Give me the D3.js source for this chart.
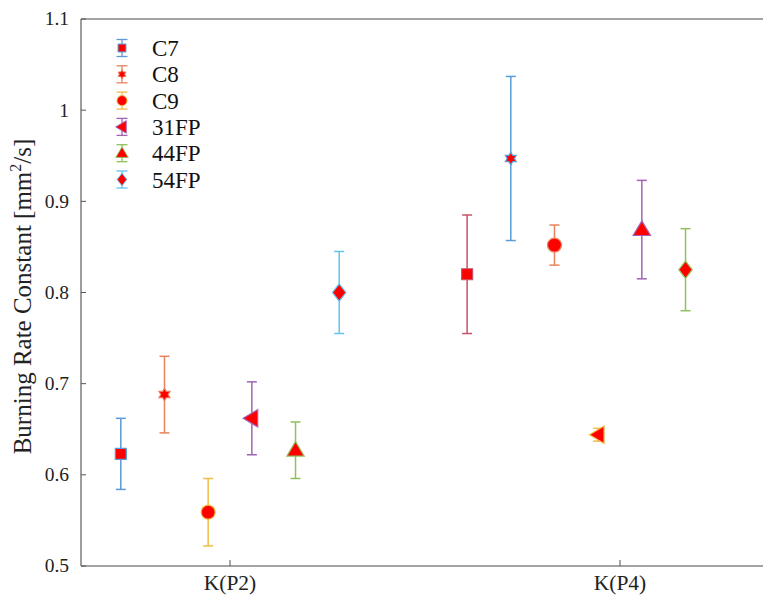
<!DOCTYPE html>
<html>
<head>
<meta charset="utf-8">
<script src="https://cdn.jsdelivr.net/npm/d3@7"></script>
<style>
  body { margin: 0; background: #fff; }
  text { font-family: "Liberation Serif", "Times New Roman", Times, serif; }
</style>
</head>
<body>
<div id="chart"></div>
<script>
// data
const categories = ['K(P2)', 'K(P4)'];
const series = ['C7', 'C8', 'C9', '31FP', '44FP', '54FP'];
const yTicks = [0.5, 0.6, 0.7, 0.8, 0.9, 1, 1.1];

const p2Mean = [0.623, 0.688, 0.559, 0.662, 0.627, 0.800];
const p2Err  = [0.039, 0.042, 0.037, 0.040, 0.031, 0.045];
const p4Mean = [0.820, 0.947, 0.852, 0.644, 0.869, 0.825];
const p4Err  = [0.065, 0.090, 0.022, 0.007, 0.054, 0.045];

// x positions (category units, K(P2)=1, K(P4)=2)
const p2X = [0.72, 0.832, 0.944, 1.056, 1.168, 1.28];
const p4X = [1.608, 1.72, 1.832, 1.944, 2.056, 2.168];

const palette = {
  blue: '#5a9bd8', orange: '#e8825e', yellow: '#f0bd45', purple: '#a263b6',
  green: '#92c05c', cyan: '#62c3ee', crimson: '#c7526a'
};
const p2Colors = ['blue', 'orange', 'yellow', 'purple', 'green', 'cyan'];
const p4Colors = ['crimson', 'blue', 'orange', 'yellow', 'purple', 'green'];
const shapes = ['square', 'hexagram', 'circle', 'triangleLeft', 'triangleUp', 'diamond'];

const W = 763, H = 596;
const margin = { top: 19, left: 81, bottom: 30 };
const plotRight = 800;

const svg = d3.select('#chart').append('svg')
  .attr('width', W).attr('height', H);

const x = d3.scaleLinear().domain([1, 2]).range([230, 620]);
const y = d3.scaleLinear().domain([0.5, 1.1]).range([H - margin.bottom, margin.top]);

// marker shapes
function markerPath(shape, s) {
  const p = d3.path();
  if (shape === 'square') {
    p.rect(-s / 2, -s / 2, s, s);
  } else if (shape === 'circle') {
    p.arc(0, 0, s / 2, 0, 2 * Math.PI);
  } else if (shape === 'diamond') {
    p.moveTo(0, -s * 0.62); p.lineTo(s * 0.48, 0); p.lineTo(0, s * 0.62); p.lineTo(-s * 0.48, 0); p.closePath();
  } else if (shape === 'triangleUp') {
    p.moveTo(0, -s * 0.62); p.lineTo(s * 0.62, s * 0.42); p.lineTo(-s * 0.62, s * 0.42); p.closePath();
  } else if (shape === 'triangleLeft') {
    p.moveTo(-s * 0.62, 0); p.lineTo(s * 0.42, -s * 0.62); p.lineTo(s * 0.42, s * 0.62); p.closePath();
  } else if (shape === 'hexagram') {
    const R = s * 0.6, r = R * 0.58;
    for (let i = 0; i < 12; i++) {
      const a = -Math.PI / 2 + i * Math.PI / 6;
      const rr = i % 2 === 0 ? R : r;
      if (i === 0) p.moveTo(rr * Math.cos(a), rr * Math.sin(a));
      else p.lineTo(rr * Math.cos(a), rr * Math.sin(a));
    }
    p.closePath();
  }
  return p.toString();
}
const markerSize = { square: 11, circle: 14, diamond: 14, triangleUp: 14, triangleLeft: 14, hexagram: 10.5 };

// axes box
const axisColor = '#858585';
const g = svg.append('g');
g.append('line').attr('x1', margin.left).attr('x2', plotRight)
  .attr('y1', y(1.1)).attr('y2', y(1.1)).attr('stroke', axisColor).attr('stroke-width', 1.6);
g.append('line').attr('x1', margin.left).attr('x2', plotRight)
  .attr('y1', y(0.5)).attr('y2', y(0.5)).attr('stroke', axisColor).attr('stroke-width', 1.6);
g.append('line').attr('x1', margin.left).attr('x2', margin.left)
  .attr('y1', y(1.1)).attr('y2', y(0.5)).attr('stroke', axisColor).attr('stroke-width', 1.6);

// y ticks
yTicks.forEach(t => {
  g.append('line').attr('x1', margin.left).attr('x2', margin.left + 5)
    .attr('y1', y(t)).attr('y2', y(t)).attr('stroke', '#555').attr('stroke-width', 1);
  g.append('text').attr('x', 69).attr('y', y(t)).attr('dy', '0.33em')
    .attr('text-anchor', 'end').attr('font-size', 19.5).attr('fill', '#222')
    .text(d3.format('~g')(t));
});

// x ticks
categories.forEach((c, i) => {
  g.append('line').attr('x1', x(i + 1)).attr('x2', x(i + 1))
    .attr('y1', y(0.5)).attr('y2', y(0.5) - 6).attr('stroke', '#555').attr('stroke-width', 1);
  g.append('text').attr('x', x(i + 1)).attr('y', y(0.5) + 24)
    .attr('text-anchor', 'middle').attr('font-size', 21.5).attr('fill', '#222').text(c);
});

// y label
const yl = svg.append('text')
  .attr('transform', `translate(31,${(y(0.5) + y(1.1)) / 2 + 4}) rotate(-90)`)
  .attr('text-anchor', 'middle').attr('font-size', 25).attr('fill', '#222');
yl.append('tspan').text('Burning Rate Constant [mm');
yl.append('tspan').attr('dy', -10).attr('font-size', 16).text('2');
yl.append('tspan').attr('dy', 10).text('/s]');

// points with error bars
const points = [];
series.forEach((s, i) => {
  points.push({ x: p2X[i], m: p2Mean[i], e: p2Err[i], color: palette[p2Colors[i]], shape: shapes[i] });
  points.push({ x: p4X[i], m: p4Mean[i], e: p4Err[i], color: palette[p4Colors[i]], shape: shapes[i] });
});

const cap = 5;
const pg = svg.append('g').selectAll('g').data(points).enter().append('g');
pg.append('line')
  .attr('x1', d => x(d.x)).attr('x2', d => x(d.x))
  .attr('y1', d => y(d.m - d.e)).attr('y2', d => y(d.m + d.e))
  .attr('stroke', d => d.color).attr('stroke-width', 1.5);
[-1, 1].forEach(sign => {
  pg.append('line')
    .attr('x1', d => x(d.x) - cap).attr('x2', d => x(d.x) + cap)
    .attr('y1', d => y(d.m + sign * d.e)).attr('y2', d => y(d.m + sign * d.e))
    .attr('stroke', d => d.color).attr('stroke-width', 1.5);
});
pg.append('path')
  .attr('transform', d => `translate(${x(d.x)},${y(d.m)})`)
  .attr('d', d => markerPath(d.shape, markerSize[d.shape]))
  .attr('fill', '#ff0000').attr('stroke', d => d.color).attr('stroke-width', 1.2);

// legend
const lg = svg.append('g').attr('transform', 'translate(122,48)');
series.forEach((s, i) => {
  const row = lg.append('g').attr('transform', `translate(0,${i * 26.3})`);
  const c = palette[p2Colors[i]];
  row.append('line').attr('x1', 0).attr('x2', 0).attr('y1', -8.5).attr('y2', 8.5)
    .attr('stroke', c).attr('stroke-width', 1.3);
  [-8.5, 8.5].forEach(yy => row.append('line').attr('x1', -5.5).attr('x2', 5.5)
    .attr('y1', yy).attr('y2', yy).attr('stroke', c).attr('stroke-width', 1.3));
  row.append('path').attr('d', markerPath(shapes[i], markerSize[shapes[i]] * 0.72))
    .attr('fill', '#ff0000').attr('stroke', c).attr('stroke-width', 1);
  row.append('text').attr('x', 30).attr('y', 0).attr('dy', '0.35em')
    .attr('font-size', 23).attr('fill', '#111').text(s);
});
</script>
</body>
</html>
